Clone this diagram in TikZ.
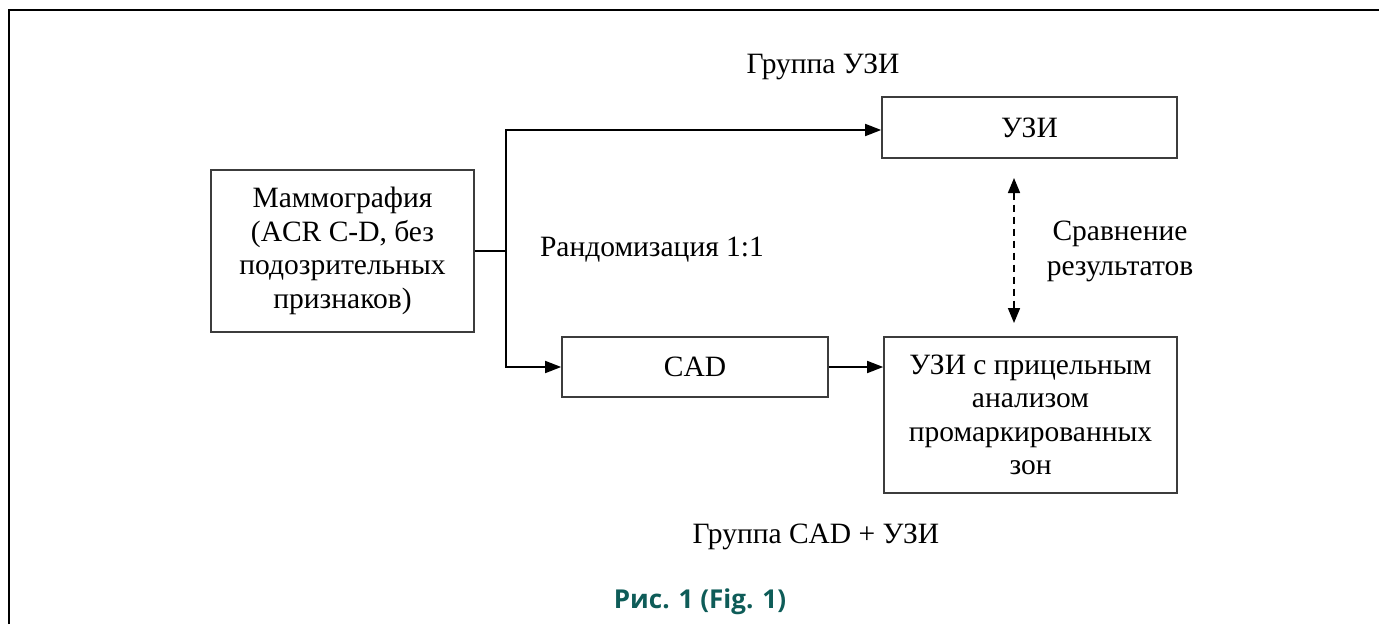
\documentclass[tikz,border=0pt]{standalone}
\usepackage{fontspec}
\setmainfont{Liberation Serif}
\newfontfamily\tnr{Liberation Serif}
\newfontfamily\capfont{Open Sans}
\usetikzlibrary{arrows.meta}
\definecolor{capteal}{RGB}{14,92,88}
\definecolor{boxgray}{RGB}{60,60,60}
\tikzset{
  box/.style={draw=boxgray, line width=1.6pt, inner sep=0pt, align=center,
    font=\tnr\fontsize{29.5}{33.5}\selectfont},
  lbl/.style={inner sep=0pt, align=center, font=\tnr\fontsize{29.5}{35}\selectfont},
  arr/.style={line width=1.6pt, draw=black, -{Triangle[length=16pt,width=12pt]}},
  conn/.style={line width=1.6pt, draw=black},
  dashdbl/.style={line width=1.6pt, draw=black, dash pattern=on 7pt off 5pt,
    {Triangle[length=15pt,width=12pt]}-{Triangle[length=15pt,width=12pt]}},
  frame/.style={line width=2.6pt, draw=black}
}
\begin{document}
\begin{tikzpicture}[x=1pt,y=-1pt]
\useasboundingbox (0,0) rectangle (1379,624);
\draw[frame] (9,624) -- (9,10) -- (1379,10);

\node[box, minimum width=263pt, minimum height=162pt] (mam) at (342.5,251)
  {Маммография\\(ACR C-D, без\\подозрительных\\признаков)};
\node[box, minimum width=295pt, minimum height=61pt] (uzi) at (1029.5,127.5) {УЗИ};
\node[box, minimum width=266pt, minimum height=60pt] (cad) at (695,367) {CAD};
\node[box, minimum width=293pt, minimum height=156pt] (uzi2) at (1030.5,415)
  {УЗИ с прицельным\\анализом\\промаркированных\\зон};

\node[lbl] (grpuzi) at (823,67) {Группа УЗИ};
\node[lbl] (rand) at (652,250) {Рандомизация 1:1};
\node[lbl] (cmp) at (1120,251) {Сравнение\\результатов};
\node[lbl] (grpcad) at (816,537) {Группа CAD + УЗИ};
\node[inner sep=0pt, text=capteal, font=\capfont\bfseries\fontsize{26}{30}\selectfont] (cap) at (700,602) {Рис. 1 (Fig. 1)};

\coordinate (branch) at (506,251);
\coordinate (cmptop) at (1014,178);
\coordinate (cmpbot) at (1014,323);

\draw[conn] (mam.east) -- (branch);
\draw[arr] (branch) |- ([yshift=-2.5pt]uzi.west);
\draw[arr] (branch) |- (cad.west);
\draw[arr] (cad.east) -- (cad.east -| uzi2.west);
\draw[dashdbl] (cmptop) -- (cmpbot);
\end{tikzpicture}
\end{document}
